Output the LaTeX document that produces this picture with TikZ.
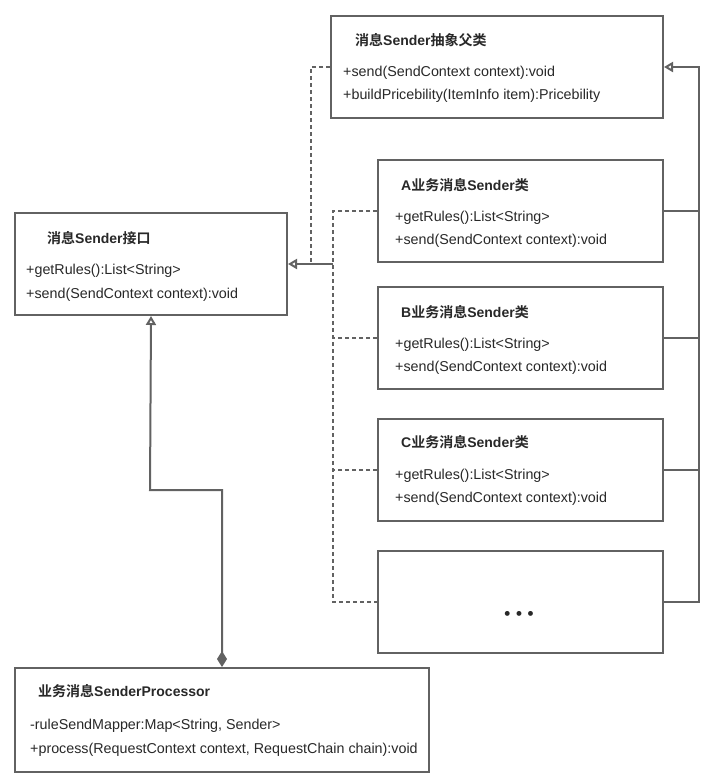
\documentclass[tikz,border=0pt]{standalone}
\usepackage{fontspec}
\setmainfont{Liberation Sans}
\newfontfamily\cjk{Noto Sans CJK SC}[BoldFont={Noto Sans CJK SC Bold}]
\usetikzlibrary{arrows.meta}
\definecolor{ln}{RGB}{98,98,98}
\definecolor{tx}{RGB}{40,40,40}
\begin{document}
\begin{tikzpicture}[x=1pt,y=-1pt,
  box/.style={draw=ln,line width=2pt,fill=white,rectangle,inner sep=0pt,anchor=north west},
  ttl/.style={anchor=base west,inner sep=0pt,text=tx,font=\fontsize{14}{16}\selectfont\bfseries},
  mem/.style={anchor=base west,inner sep=0pt,text=tx,font=\fontsize{14.3}{16}\selectfont},
  solidline/.style={draw=ln,line width=2pt},
  dashline/.style={draw=ln,line width=2pt,dash pattern=on 4pt off 3pt},
  open/.style={-{Triangle[open,length=9pt,width=10pt,line width=2pt]}}]
\useasboundingbox (0,0) rectangle (728,782);
\fill[white] (0,0) rectangle (728,782);
% boxes
\node[box,minimum width=332pt,minimum height=102pt] (abs) at (330,15) {};
\node[box,minimum width=272pt,minimum height=102pt] (iface) at (14,212) {};
\node[box,minimum width=285pt,minimum height=102pt] (A) at (377,159) {};
\node[box,minimum width=285pt,minimum height=102pt] (B) at (377,286) {};
\node[box,minimum width=285pt,minimum height=102pt] (C) at (377,418) {};
\node[box,minimum width=285pt,minimum height=102pt] (D) at (377,550) {};
\node[box,minimum width=414pt,minimum height=104pt] (proc) at (14,667) {};
% texts
\node[ttl] (absT) at (355,45) {{\cjk\bfseries 消息}Sender{\cjk\bfseries 抽象父类}};
\node[mem] (absM1) at (343,76) {+send(SendContext context):void};
\node[mem] (absM2) at (343,99) {+buildPricebility(ItemInfo item):Pricebility};
\node[ttl] (ifT) at (47,243) {{\cjk\bfseries 消息}Sender{\cjk\bfseries 接口}};
\node[mem] (ifM1) at (26,274) {+getRules():List<String>};
\node[mem] (ifM2) at (26,298) {+send(SendContext context):void};
\node[ttl] (AT) at (401,190) {A{\cjk\bfseries 业务消息}Sender{\cjk\bfseries 类}};
\node[mem] (AM1) at (395,221) {+getRules():List<String>};
\node[mem] (AM2) at (395,244) {+send(SendContext context):void};
\node[ttl] (BT) at (401,317) {B{\cjk\bfseries 业务消息}Sender{\cjk\bfseries 类}};
\node[mem] (BM1) at (395,348) {+getRules():List<String>};
\node[mem] (BM2) at (395,371) {+send(SendContext context):void};
\node[ttl] (CT) at (401,447) {C{\cjk\bfseries 业务消息}Sender{\cjk\bfseries 类}};
\node[mem] (CM1) at (395,479) {+getRules():List<String>};
\node[mem] (CM2) at (395,502) {+send(SendContext context):void};
\node[text=tx,inner sep=0pt,font=\fontsize{17}{18}\selectfont\bfseries] (dots) at (519,615) {•\,\,•\,\,•};
\node[ttl] (pT) at (38,696) {{\cjk\bfseries 业务消息}SenderProcessor};
\node[mem] (pM1) at (30,729) {-ruleSendMapper:Map<String, Sender>};
\node[mem] (pM2) at (30,753) {+process(RequestContext context, RequestChain chain):void};
% helper coordinates
\path (iface.east) ++(23,0) coordinate (j1);
\path (iface.east) ++(45,0) coordinate (trunk);
\coordinate (rt) at (699,263);
\coordinate (bend) at (150,490);
% dashed realization lines
\draw[dashline] (abs.west) -| (j1);
\draw[dashline] (A.west) -- (A.west -| trunk) -- (D.west -| trunk) -- (D.west);
\draw[dashline] (B.west) -- (B.west -| trunk);
\draw[dashline] (C.west) -- (C.west -| trunk);
\draw[solidline,open] (trunk) -- (iface.east);
% inheritance lines on right
\draw[solidline] (A.east) -- (A.east -| rt);
\draw[solidline] (B.east) -- (B.east -| rt);
\draw[solidline] (C.east) -- (C.east -| rt);
\draw[solidline,open] (D.east) -- (D.east -| rt) |- (abs.east);
% aggregation
\draw[solidline,{Diamond[length=16pt,width=10pt]}-{Triangle[open,length=9pt,width=10pt,line width=2pt]}] (proc.north) |- (bend) -- (iface.south);
\end{tikzpicture}
\end{document}
